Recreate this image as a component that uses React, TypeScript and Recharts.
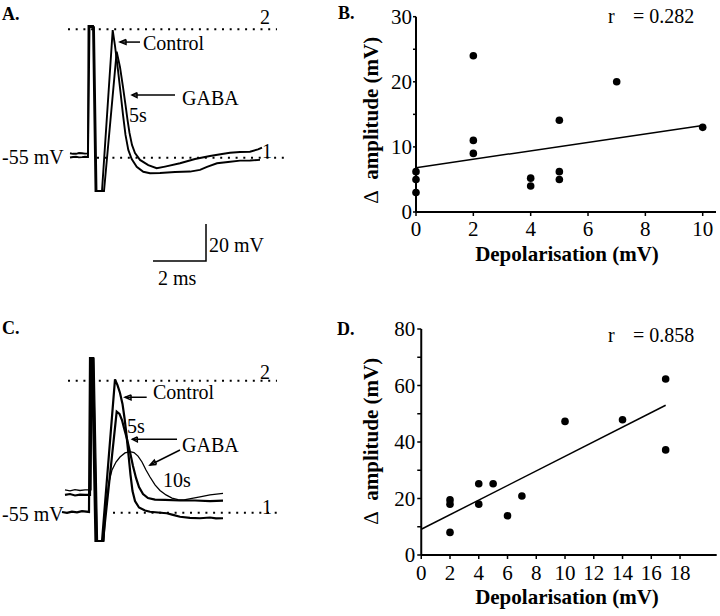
import React from 'react';
import { LineChart, Line, XAxis, YAxis, ComposedChart, Scatter } from 'recharts';

const FONT = '"Liberation Serif", "Times New Roman", serif';

type P = { t: number; v: number };
const pts = (a: number[][]): P[] => a.map(([t, v]) => ({ t, v }));
const xy = (a: number[][]) => a.map(([x, y]) => ({ x, y }));

// ---------- Panel A: traces (t = ms from stimulus, v = mV) ----------
const controlA = pts([
  [-0.679, -54.9], [-0.566, -54.6], [-0.453, -54.5], [-0.34, -54.8], [-0.226, -54.7], [-0.113, -54.5], [0, -54.6],
  [0.019, 16.2], [0.189, 16.2], [0.283, -73.0], [0.528, -73.0],
  [0.932, 14.0], [1.019, 5.4], [1.132, -7.6], [1.226, -19.5], [1.321, -31.9], [1.415, -42.7], [1.521, -50.8],
  [1.649, -55.7], [1.838, -59.9], [2.087, -62.6], [2.34, -63.4], [2.717, -63.3], [3.283, -62.7], [3.849, -62.5],
  [4.226, -61.6], [4.491, -60.0], [4.868, -58.0], [5.283, -57.3], [5.736, -56.6], [6.113, -56.5], [6.491, -56.2],
]);
const gabaA = pts([
  [-0.679, -52.6], [-0.566, -52.9], [-0.453, -52.9], [-0.34, -52.5], [-0.226, -52.6], [-0.113, -52.8], [0, -52.7],
  [0.057, 15.6], [0.226, 15.6], [0.321, -73.0], [0.604, -73.0],
  [1.083, 2.3], [1.208, -6.0], [1.321, -16.8], [1.415, -26.5], [1.491, -34.6], [1.566, -41.6], [1.66, -48.1],
  [1.774, -52.5], [1.962, -56.2], [2.275, -59.0], [2.592, -60.7], [2.906, -59.8], [3.472, -58.0], [4.038, -55.7],
  [4.604, -54.1], [5.057, -53.0], [5.358, -52.3], [5.736, -51.9], [6.113, -51.8], [6.415, -50.5], [6.566, -49.5],
]);
const topLineA = pts([[-0.755, 14.4], [7.132, 14.4]]);
const baseLineA = pts([[0.34, -55], [7.51, -55]]);
const scaleBarA = pts([[2.453, -110.8], [4.453, -110.8], [4.453, -90.8]]);
const ctrlArrowA = pts([[1.962, 7.5], [1.208, 7.5]]);
const ctrlHeadA = pts([[1.434, 8.9], [1.208, 7.5], [1.434, 6.2], [1.434, 8.9]]);
const gabaArrowA = pts([[3.283, -21.1], [1.66, -21.1]]);
const gabaHeadA = pts([[1.849, -19.8], [1.66, -21.1], [1.849, -22.5], [1.849, -19.8]]);

// ---------- Panel C: traces ----------
const controlC = pts([
  [-1.019, -54.6], [-0.83, -55.1], [-0.642, -54.4], [-0.453, -54.8], [-0.264, -54.2], [0.0, -54.6],
  [0.038, 28.6], [0.113, 28.6], [0.245, -70.3], [0.491, -70.3],
  [0.981, 17.1], [1.075, 14.0], [1.17, 9.7], [1.264, 3.8], [1.34, -3.8], [1.415, -13.0], [1.491, -23.8],
  [1.566, -34.6], [1.642, -43.3], [1.736, -48.7], [1.887, -52.2], [2.113, -53.8], [2.302, -54.5], [2.604, -54.9],
  [2.932, -55.3], [3.17, -56.2], [3.434, -57.2], [3.811, -57.8], [4.189, -58.0], [4.566, -57.6], [4.792, -58.1],
  [5.057, -58.0],
]);
const gaba5sC = pts([
  [-0.906, -45.4], [-0.717, -44.9], [-0.528, -45.7], [-0.34, -45.2], [-0.151, -45.4], [0.038, -45.4],
  [0.075, 28.6], [0.151, 28.6], [0.283, -70.3], [0.528, -70.3],
  [1.045, -0.4], [1.151, -1.6], [1.245, -4.9], [1.321, -9.2], [1.434, -15.2], [1.547, -22.2], [1.66, -29.8],
  [1.774, -36.2], [1.887, -41.1], [2.038, -44.9], [2.226, -47.1], [2.491, -47.9], [2.868, -48.1], [3.434, -48.4],
  [4.0, -48.4], [4.566, -48.7], [5.057, -48.5],
]);
const gaba10sC = pts([
  [-0.906, -42.7], [-0.717, -43.2], [-0.528, -42.5], [-0.34, -43.0], [-0.151, -42.7], [0.075, -42.7],
  [0.113, 28.6], [0.189, 28.6], [0.321, -70.3], [0.566, -70.3],
  [0.604, -59.0], [0.66, -48.1], [0.755, -38.4], [0.868, -31.9], [1.019, -27.6], [1.17, -24.9], [1.358, -22.7],
  [1.547, -22.0], [1.698, -22.5], [1.849, -24.4], [2.0, -27.6], [2.151, -31.9], [2.302, -35.7], [2.491, -40.0],
  [2.679, -43.0], [2.906, -45.4], [3.132, -47.1], [3.358, -47.9], [3.585, -48.1], [3.887, -47.3], [4.189, -46.5],
  [4.566, -45.4], [5.057, -44.6],
]);
const topLineC = pts([[-0.792, 16.35], [7.094, 16.35]]);
const baseLineC = pts([[0.906, -55], [7.283, -55]]);
const ctrlArrowC = pts([[2.177, 7.4], [1.358, 7.4]]);
const ctrlHeadC = pts([[1.585, 8.7], [1.358, 7.4], [1.585, 6.0], [1.585, 8.7]]);
const gabaArrowC1 = pts([[3.321, -15.3], [1.634, -15.3]]);
const gabaHeadC1 = pts([[1.823, -14.0], [1.634, -15.3], [1.823, -16.7], [1.823, -14.0]]);
const gabaArrowC2 = pts([[3.434, -21.1], [2.302, -29.2]]);
const gabaHeadC2 = pts([[2.547, -28.9], [2.302, -29.2], [2.464, -26.6], [2.547, -28.9]]);

// ---------- Panel B ----------
const depolB = [0, 0, 0, 2, 2, 2, 4, 4, 5, 5, 5, 7, 10];
const ampB = [6.2, 5, 3, 24, 11, 9, 5.2, 4, 14.1, 6.2, 5, 20, 13];
const fitB = xy([[0, 6.8], [10, 13.3]]);
const xTicksB = [0, 2, 4, 6, 8, 10];
const yTicksB = [0, 5, 10, 15, 20, 25, 30];

// ---------- Panel D ----------
const depolD = [2, 2, 2, 4, 4, 5, 6, 7, 10, 14, 17, 17];
const ampD = [19.5, 18, 8, 25.2, 18, 25.2, 13.9, 20.9, 47.3, 47.9, 62.3, 37.2];
const fitD = xy([[0, 9.1], [17, 53]]);
const xTicksD = [0, 2, 4, 6, 8, 10, 12, 14, 16, 18];
const yTicksD = [0, 10, 20, 30, 40, 50, 60, 70, 80];

const pointsB = depolB.map((x, i) => ({ x, y: ampB[i] }));
const pointsD = depolD.map((x, i) => ({ x, y: ampD[i] }));

const T = ({ x, y, children, size = 20, bold = false, center = false, rotate = false }: any) => (
  <div
    style={{
      position: 'absolute', left: x, top: y, fontFamily: FONT, fontSize: size,
      fontWeight: bold ? 'bold' : 'normal', lineHeight: `${size}px`, whiteSpace: 'pre', color: '#000',
      transform: `translate(${center ? '-50%' : '0'}, -50%)${rotate ? ' rotate(-90deg)' : ''}`,
    }}
  >
    {children}
  </div>
);

const ln = (data: P[], w: number, key: string, dash?: string) => (
  <Line key={key} data={data} dataKey="v" type="linear" stroke="#000" strokeWidth={w}
    strokeDasharray={dash} dot={false} activeDot={false} isAnimationActive={false} />
);

const dot = (props: any) => <circle cx={props.cx} cy={props.cy} r={3.8} fill="#000" />;

const tickStyle = { fontSize: 21, fill: '#000', fontFamily: FONT };
const axisStyle = { stroke: '#000', strokeWidth: 2 };
const tickLineStyle = { stroke: '#000', strokeWidth: 1.5 };

export default function App() {
  return (
    <div style={{ position: 'absolute', left: 0, top: 0, width: 720, height: 616, background: '#fff', overflow: 'hidden' }}>
      {/* Panel A */}
      <div style={{ position: 'absolute', left: 0, top: 0 }}>
        <LineChart width={300} height={300} margin={{ top: 0, right: 0, bottom: 0, left: 0 }}>
          <XAxis type="number" dataKey="t" domain={[-3.3208, 8.0]} hide allowDataOverflow />
          <YAxis type="number" dataKey="v" domain={[-131.92, 30.243]} hide allowDataOverflow />
          {ln(topLineA, 2, 'ta', '2 5.7')}
          {ln(baseLineA, 2, 'ba', '2 5.7')}
          {ln(controlA, 1.9, 'ca')}
          {ln(gabaA, 1.9, 'ga')}
          {ln(scaleBarA, 1.5, 'sa')}
          {ln(ctrlArrowA, 1.5, 'caa')}
          {ln(ctrlHeadA, 1.5, 'cha')}
          {ln(gabaArrowA, 1.5, 'gaa')}
          {ln(gabaHeadA, 1.5, 'gha')}
        </LineChart>
      </div>
      <T x={2} y={14} size={18} bold>A.</T>
      <T x={260} y={17}>2</T>
      <T x={143} y={43}>Control</T>
      <T x={182} y={98}>GABA</T>
      <T x={129} y={115}>5s</T>
      <T x={2} y={157}>-55 mV</T>
      <T x={262} y={151}>1</T>
      <T x={209} y={245}>20 mV</T>
      <T x={158} y={278}>2 ms</T>

      {/* Panel C */}
      <div style={{ position: 'absolute', left: 0, top: 310 }}>
        <LineChart width={300} height={306} margin={{ top: 0, right: 0, bottom: 0, left: 0 }}>
          <XAxis type="number" dataKey="t" domain={[-3.3585, 7.9623]} hide allowDataOverflow />
          <YAxis type="number" dataKey="v" domain={[-110.84, 54.57]} hide allowDataOverflow />
          {ln(topLineC, 2, 'tc', '2 5.7')}
          {ln(baseLineC, 2, 'bc', '2 5.7')}
          {ln(controlC, 2.2, 'cc')}
          {ln(gaba5sC, 2.2, 'g5')}
          {ln(gaba10sC, 1.3, 'g10')}
          {ln(ctrlArrowC, 1.5, 'cac')}
          {ln(ctrlHeadC, 1.5, 'chc')}
          {ln(gabaArrowC1, 1.5, 'ga1')}
          {ln(gabaHeadC1, 1.5, 'gh1')}
          {ln(gabaArrowC2, 1.5, 'ga2')}
          {ln(gabaHeadC2, 1.5, 'gh2')}
        </LineChart>
      </div>
      <T x={2} y={328} size={18} bold>C.</T>
      <T x={260} y={372}>2</T>
      <T x={153} y={392}>Control</T>
      <T x={127} y={426}>5s</T>
      <T x={182} y={445}>GABA</T>
      <T x={163} y={480}>10s</T>
      <T x={262} y={507}>1</T>
      <T x={2} y={514}>-55 mV</T>

      {/* Panel B */}
      <div style={{ position: 'absolute', left: 300, top: 0 }}>
        <ComposedChart width={420} height={300} margin={{ top: 16.7, right: 4, bottom: 58, left: 56 }}>
          <XAxis type="number" dataKey="x" domain={[0, 10.464]} ticks={xTicksB} interval={0}
            tick={tickStyle} tickSize={4} tickMargin={5} axisLine={axisStyle} tickLine={tickLineStyle} height={30} />
          <YAxis type="number" dataKey="y" domain={[0, 30]} ticks={yTicksB} interval={0} width={60}
            tickFormatter={(v: number) => (v % 10 === 0 ? String(v) : '')}
            tick={tickStyle} tickSize={3} tickMargin={1} axisLine={axisStyle} tickLine={tickLineStyle} />
          <Line data={fitB} dataKey="y" type="linear" stroke="#000" strokeWidth={1.5} dot={false} activeDot={false} isAnimationActive={false} />
          <Scatter data={pointsB} dataKey="y" shape={dot} isAnimationActive={false} />
        </ComposedChart>
      </div>
      <T x={338} y={13} size={18} bold>B.</T>
      <T x={608} y={16}>r</T>
      <T x={633} y={16}>= 0.282</T>
      <T x={567} y={254} size={21} bold center>Depolarisation (mV)</T>
      <T x={371} y={120} size={21} bold center rotate><span style={{ fontWeight: 'normal' }}>∆</span>{'  amplitude (mV)'}</T>

      {/* Panel D */}
      <div style={{ position: 'absolute', left: 300, top: 310 }}>
        <ComposedChart width={420} height={306} margin={{ top: 19, right: 3.3, bottom: 31, left: 61.25 }}>
          <XAxis type="number" dataKey="x" domain={[0, 20.55]} ticks={xTicksD} interval={0}
            tick={tickStyle} tickSize={4} tickMargin={6} axisLine={axisStyle} tickLine={tickLineStyle} height={30} />
          <YAxis type="number" dataKey="y" domain={[0, 80]} ticks={yTicksD} interval={0} width={60}
            tickFormatter={(v: number) => (v % 20 === 0 ? String(v) : '')}
            tick={tickStyle} tickSize={4} tickMargin={2} axisLine={axisStyle} tickLine={tickLineStyle} />
          <Line data={fitD} dataKey="y" type="linear" stroke="#000" strokeWidth={1.5} dot={false} activeDot={false} isAnimationActive={false} />
          <Scatter data={pointsD} dataKey="y" shape={dot} isAnimationActive={false} />
        </ComposedChart>
      </div>
      <T x={337} y={329} size={18} bold>D.</T>
      <T x={608} y={335}>r</T>
      <T x={633} y={335}>= 0.858</T>
      <T x={567} y={597} size={21} bold center>Depolarisation (mV)</T>
      <T x={371} y={441} size={21} bold center rotate><span style={{ fontWeight: 'normal' }}>∆</span>{'  amplitude (mV)'}</T>
    </div>
  );
}
